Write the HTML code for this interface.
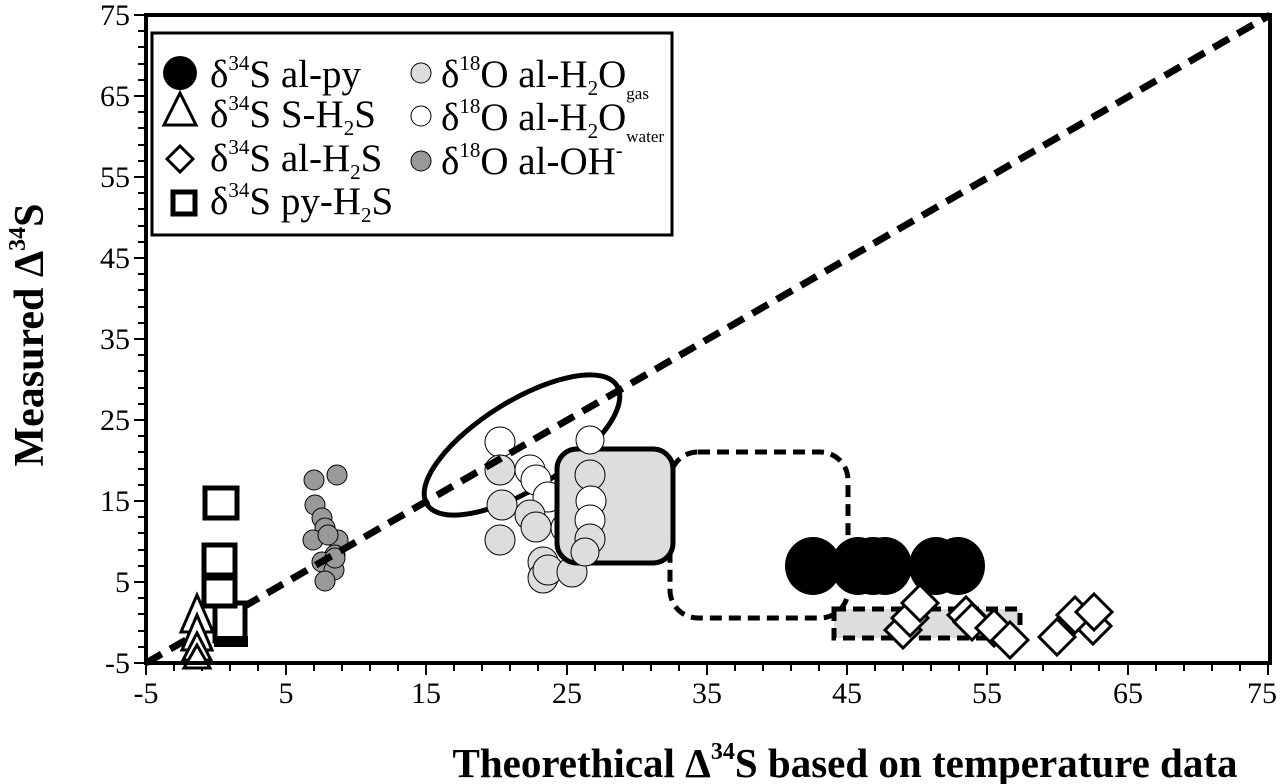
<!DOCTYPE html>
<html><head><meta charset="utf-8"><style>
html,body{margin:0;padding:0;background:#fff;}
svg{display:block;font-family:"Liberation Serif",serif;}
</style></head><body>
<svg width="1285" height="784" viewBox="0 0 1285 784" xmlns="http://www.w3.org/2000/svg">
<g stroke="#000" stroke-width="2">
<path d="M146 663V675M174 663V671M202 663V671M230 663V671M258 663V671M286 663V675M314 663V671M342 663V671M370 663V671M398 663V671M426 663V675M454 663V671M482 663V671M510 663V671M538 663V671M567 663V675M595 663V671M623 663V671M651 663V671M679 663V671M707 663V675M735 663V671M763 663V671M791 663V671M819 663V671M847 663V675M875 663V671M903 663V671M931 663V671M959 663V671M987 663V675M1015 663V671M1043 663V671M1071 663V671M1099 663V671M1128 663V675M1156 663V671M1184 663V671M1212 663V671M1240 663V671M1268 663V675"/>
<path d="M146 15H134M146 31H138M146 47H138M146 64H138M146 80H138M146 96H134M146 112H138M146 128H138M146 145H138M146 161H138M146 177H134M146 193H138M146 209H138M146 226H138M146 242H138M146 258H134M146 274H138M146 290H138M146 307H138M146 323H138M146 339H134M146 355H138M146 371H138M146 388H138M146 404H138M146 420H134M146 436H138M146 452H138M146 469H138M146 485H138M146 501H134M146 517H138M146 533H138M146 550H138M146 566H138M146 582H134M146 598H138M146 614H138M146 631H138M146 647H138M146 663H134"/>
</g>
<rect x="834" y="609" width="186" height="29" fill="#ddd" stroke="#000" stroke-width="5" stroke-dasharray="12 7"/>
<rect x="670" y="452" width="178" height="166" rx="28" fill="none" stroke="#000" stroke-width="5" stroke-dasharray="12 7"/>
<ellipse cx="522" cy="445" rx="112" ry="44" transform="rotate(-32 522 445)" fill="none" stroke="#000" stroke-width="5"/>
<g stroke="#000" stroke-width="1">
<circle cx="500" cy="442" r="15" fill="#fff"/>
<circle cx="530" cy="470" r="15" fill="#fff"/>
<circle cx="536" cy="480" r="15" fill="#fff"/>
<circle cx="548" cy="497" r="15" fill="#fff"/>
<circle cx="566" cy="528" r="15" fill="#fff"/>
<circle cx="500" cy="470" r="15" fill="#ddd"/>
<circle cx="502" cy="505" r="15" fill="#ddd"/>
<circle cx="500" cy="540" r="15" fill="#ddd"/>
<circle cx="530" cy="515" r="15" fill="#ddd"/>
<circle cx="536" cy="527" r="15" fill="#ddd"/>
<circle cx="543" cy="562" r="15" fill="#ddd"/>
<circle cx="543" cy="578" r="15" fill="#ddd"/>
<circle cx="548" cy="570" r="15" fill="#ddd"/>
<circle cx="572" cy="572" r="15" fill="#ddd"/>
</g>
<rect x="557" y="449" width="116" height="114" rx="20" fill="#ddd" stroke="#000" stroke-width="5"/>
<g stroke="#000" stroke-width="1">
<circle cx="590" cy="440" r="14" fill="#fff"/>
<circle cx="590" cy="475" r="15" fill="#ddd"/>
<circle cx="591" cy="501" r="15" fill="#fff"/>
<circle cx="590" cy="520" r="15" fill="#fff"/>
<circle cx="590" cy="539" r="15" fill="#ddd"/>
<circle cx="585" cy="552" r="14" fill="#ddd"/>
</g>
<g stroke="#000" stroke-width="1" fill="#999">
<circle cx="314" cy="480" r="10"/><circle cx="337" cy="475" r="10"/>
<circle cx="315" cy="505" r="10"/><circle cx="322" cy="518" r="10"/>
<circle cx="325" cy="528" r="10"/><circle cx="313" cy="540" r="10"/>
<circle cx="338" cy="540" r="10"/><circle cx="328" cy="535" r="10"/>
<circle cx="335" cy="555" r="10"/><circle cx="322" cy="562" r="10"/>
<circle cx="334" cy="570" r="10"/><circle cx="325" cy="581" r="10"/>
<circle cx="335" cy="558" r="10"/>
</g>
<line x1="146" y1="663" x2="1270" y2="15" stroke="#000" stroke-width="7" stroke-dasharray="18 10"/>
<g fill="#fff" stroke="#000" stroke-width="5">
<rect x="215" y="603" width="30" height="38"/>
<rect x="205" y="488" width="32" height="30"/>
<rect x="204" y="545" width="31" height="30"/>
<rect x="204" y="578" width="31" height="28"/>
</g>
<rect x="214" y="636" width="34" height="11" fill="#000"/>
<g fill="#fff" stroke="#000" stroke-width="3">
<path d="M197 595L181 632H213Z"/>
<path d="M197 615L182 650H212Z"/>
<path d="M197 633L183 660H211Z"/>
<path d="M197 645L184 668H210Z"/>
</g>
<g fill="#000">
<ellipse cx="813" cy="566" rx="28" ry="29"/>
<ellipse cx="858" cy="566" rx="27" ry="29"/>
<ellipse cx="873" cy="566" rx="27" ry="29"/>
<ellipse cx="885" cy="566" rx="27" ry="29"/>
<ellipse cx="936" cy="566" rx="27" ry="29"/>
<ellipse cx="958" cy="566" rx="27" ry="29"/>
</g>
<g fill="#fff" stroke="#000" stroke-width="3">
<path d="M903 612l18 18l-18 18l-18-18z"/>
<path d="M910 600l18 18l-18 18l-18-18z"/>
<path d="M920 585l18 18l-18 18l-18-18z"/>
<path d="M966 597l18 18l-18 18l-18-18z"/>
<path d="M972 604l18 18l-18 18l-18-18z"/>
<path d="M994 610l18 18l-18 18l-18-18z"/>
<path d="M1010 622l18 18l-18 18l-18-18z"/>
<path d="M1057 619l18 18l-18 18l-18-18z"/>
<path d="M1093 608l18 18l-18 18l-18-18z"/>
<path d="M1075 597l18 18l-18 18l-18-18z"/>
<path d="M1094 594l18 18l-18 18l-18-18z"/>
</g>
<rect x="146" y="15" width="1124" height="648" fill="none" stroke="#000" stroke-width="4"/>
<rect x="152" y="33" width="520" height="202" fill="#fff" stroke="#000" stroke-width="3"/>
<g font-size="39">
<circle cx="180" cy="73" r="17" fill="#000"/>
<text x="210" y="87">δ<tspan font-size="21" dy="-17">34</tspan><tspan dy="17">S al-py</tspan></text>
<path d="M180 93L164 125H196Z" fill="none" stroke="#000" stroke-width="3"/>
<text x="210" y="127">δ<tspan font-size="21" dy="-17">34</tspan><tspan dy="17">S S-H</tspan><tspan font-size="21" dy="8">2</tspan><tspan dy="-8">S</tspan></text>
<path d="M180 146l13 13l-13 13l-13-13z" fill="none" stroke="#000" stroke-width="3"/>
<text x="210" y="171">δ<tspan font-size="21" dy="-17">34</tspan><tspan dy="17">S al-H</tspan><tspan font-size="21" dy="8">2</tspan><tspan dy="-8">S</tspan></text>
<rect x="173" y="192" width="22" height="22" fill="none" stroke="#000" stroke-width="5"/>
<text x="210" y="214">δ<tspan font-size="21" dy="-17">34</tspan><tspan dy="17">S py-H</tspan><tspan font-size="21" dy="8">2</tspan><tspan dy="-8">S</tspan></text>
<circle cx="421" cy="73" r="10" fill="#ddd" stroke="#000" stroke-width="1"/>
<text x="441" y="87">δ<tspan font-size="21" dy="-17">18</tspan><tspan dy="17">O al-H</tspan><tspan font-size="21" dy="8">2</tspan><tspan dy="-8">O</tspan><tspan font-size="17" dy="12">gas</tspan></text>
<circle cx="421" cy="116" r="10" fill="#fff" stroke="#000" stroke-width="1"/>
<text x="441" y="130">δ<tspan font-size="21" dy="-17">18</tspan><tspan dy="17">O al-H</tspan><tspan font-size="21" dy="8">2</tspan><tspan dy="-8">O</tspan><tspan font-size="17" dy="12">water</tspan></text>
<circle cx="421" cy="161" r="10" fill="#999" stroke="#000" stroke-width="1"/>
<text x="441" y="174">δ<tspan font-size="21" dy="-17">18</tspan><tspan dy="17">O al-OH</tspan><tspan font-size="21" dy="-17">-</tspan></text>
</g>
<g font-size="30" text-anchor="end">
<text x="130" y="25">75</text><text x="130" y="106">65</text><text x="130" y="187">55</text>
<text x="130" y="268">45</text><text x="130" y="349">35</text><text x="130" y="430">25</text>
<text x="130" y="511">15</text><text x="130" y="592">5</text><text x="130" y="673">-5</text>
</g>
<g font-size="30" text-anchor="middle">
<text x="146" y="703">-5</text><text x="286" y="703">5</text><text x="426" y="703">15</text>
<text x="567" y="703">25</text><text x="707" y="703">35</text><text x="847" y="703">45</text>
<text x="987" y="703">55</text><text x="1128" y="703">65</text><text x="1262" y="703">75</text>
</g>
<text x="845" y="777" font-size="41" font-weight="bold" text-anchor="middle">Theorethical Δ<tspan font-size="24" dy="-18">34</tspan><tspan dy="18">S based on temperature data</tspan></text>
<text transform="translate(43 335) rotate(-90)" font-size="42" font-weight="bold" text-anchor="middle">Measured Δ<tspan font-size="24" dy="-18">34</tspan><tspan dy="18">S</tspan></text>
</svg>
</body></html>
